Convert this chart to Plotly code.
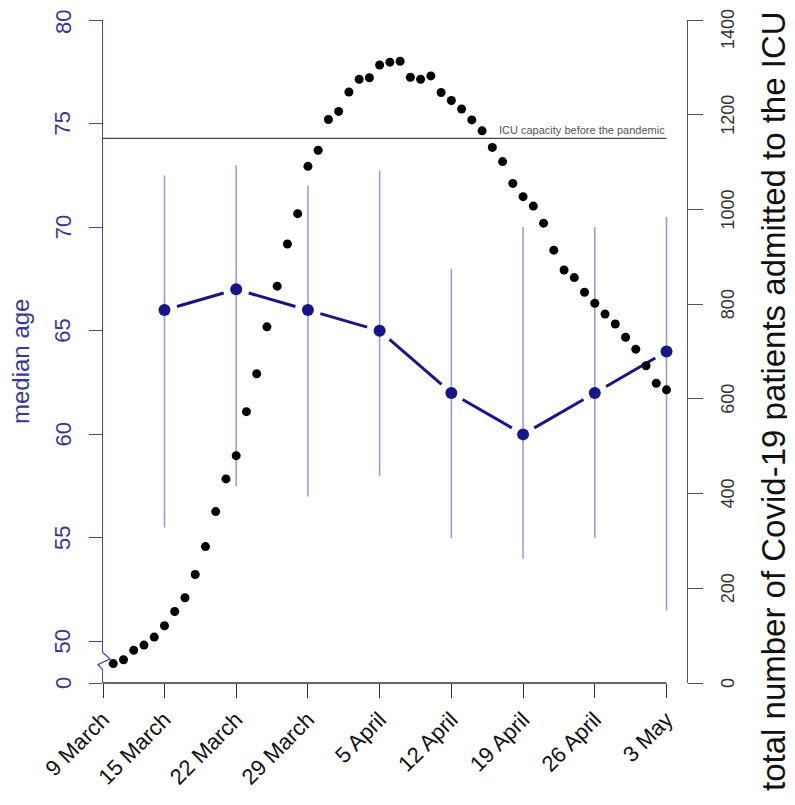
import math
import pandas as pd
import plotly.graph_objects as go

# ---------------- data ----------------
# total ICU patients (daily, 10 March - 3 May 2020)
icu_start = "2020-03-10"
icu_end = "2020-05-03"
icu_total = [41, 49, 69, 80, 97, 121, 151, 180, 229, 288,
             362, 431, 480, 573, 653, 752, 838, 927, 991, 1091,
             1125, 1190, 1207, 1248, 1275, 1278, 1305,
             1311, 1313, 1279, 1275, 1282, 1247, 1230, 1212, 1189, 1166,
             1131, 1101, 1055, 1027, 1007, 971, 914, 872, 856, 825,
             802, 779, 758, 730, 705, 670, 633, 619]

# weekly median age with range
week_dates = ["2020-03-15", "2020-03-22", "2020-03-29", "2020-04-05",
              "2020-04-12", "2020-04-19", "2020-04-26", "2020-05-03"]
median_age = [66, 67, 66, 65, 62, 60, 62, 64]
age_low = [55.5, 57.5, 57, 58, 55, 54, 55, 51.5]
age_high = [72.5, 73, 72, 72.75, 68, 70, 70, 70.5]

icu_capacity = 1150
capacity_label = "ICU capacity before the pandemic"

tick_dates = ["2020-03-09", "2020-03-15", "2020-03-22", "2020-03-29", "2020-04-05",
              "2020-04-12", "2020-04-19", "2020-04-26", "2020-05-03"]
tick_text = ["9 March", "15 March", "22 March", "29 March", "5 April",
             "12 April", "19 April", "26 April", "3 May"]

age_ticks = [50, 55, 60, 65, 70, 75, 80]
icu_ticks = [0, 200, 400, 600, 800, 1000, 1200, 1400]

# ---------------- layout constants ----------------
PAGE_PAD = 8                 # default body margin of the html page
W, H = 795 - PAGE_PAD, 805 - PAGE_PAD
ML, MR, MT, MB = 95, 108, 12, 122
X_MIN, X_MAX = pd.Timestamp("2020-03-09"), pd.Timestamp("2020-05-05")
AGE_AXIS_ZERO = 48          # position of the broken-axis "0" label
AGE_MAX = 80
ICU_MAX = 1400
PLOT_W = W - ML - MR
PLOT_H = H - MT - MB
px_day = PLOT_W / (X_MAX - X_MIN).days
px_age = PLOT_H / (AGE_MAX - AGE_AXIS_ZERO)


def paper_x(screen_x):
    return (screen_x - PAGE_PAD - ML) / PLOT_W


def paper_y(screen_y):
    return (H - MB - (screen_y - PAGE_PAD)) / PLOT_H


NAVY = "#16168a"
AXIS_BLUE = "#4646a6"
LABEL_BLUE = "#36369c"
BAR_BLUE = "#9c9cd4"
FONT = "Liberation Sans, Arial, sans-serif"

fig = go.Figure()

icu_dates = pd.date_range(icu_start, icu_end, freq="D")
fig.add_trace(go.Scatter(
    x=icu_dates, y=icu_total, mode="markers", yaxis="y2",
    marker=dict(color="black", size=9), showlegend=False, hoverinfo="skip"))

# vertical range lines
wd = pd.to_datetime(week_dates)
fig.add_trace(go.Scatter(
    x=wd, y=median_age, mode="markers", yaxis="y",
    marker=dict(color=NAVY, size=11, opacity=0),
    error_y=dict(type="data", symmetric=False,
                 array=[h - m for h, m in zip(age_high, median_age)],
                 arrayminus=[m - l for l, m in zip(age_low, median_age)],
                 color=BAR_BLUE, thickness=1.6, width=0),
    showlegend=False, hoverinfo="skip"))

# line segments between points with gaps (R type="b")
GAP = 13
seg_x, seg_y = [], []
for i in range(len(wd) - 1):
    dt = wd[i + 1] - wd[i]
    da = median_age[i + 1] - median_age[i]
    L = math.hypot(dt.days * px_day, da * px_age)
    f = GAP / L
    seg_x += [wd[i] + dt * f, wd[i + 1] - dt * f, None]
    seg_y += [median_age[i] + da * f, median_age[i + 1] - da * f, None]
fig.add_trace(go.Scatter(x=seg_x, y=seg_y, mode="lines", yaxis="y",
                         line=dict(color=NAVY, width=3), showlegend=False,
                         hoverinfo="skip", connectgaps=False))
fig.add_trace(go.Scatter(x=wd, y=median_age, mode="markers", yaxis="y",
                         marker=dict(color=NAVY, size=12), showlegend=False,
                         hoverinfo="skip"))

shapes = [
    # x axis line from first to last tick
    dict(type="line", xref="x", yref="paper", x0=tick_dates[0], x1=tick_dates[-1],
         y0=0, y1=0, line=dict(color="#333333", width=1.3), layer="above"),
    # ICU capacity
    dict(type="line", xref="x", yref="y2", x0=tick_dates[0], x1=tick_dates[-1],
         y0=icu_capacity, y1=icu_capacity, line=dict(color="#444444", width=1.4)),
    # axis break: blank out the axis, then zigzag
    dict(type="line", xref="paper", yref="y", x0=0, x1=0, y0=48.62, y1=49.46,
         line=dict(color="white", width=3), layer="above"),
    dict(type="path", xref="paper", yref="y",
         path="M 0,49.46 L 0.012,49.17 L -0.0086,48.88 L 0,48.62",
         line=dict(color=AXIS_BLUE, width=1.3), layer="above"),
]

annotations = [
    dict(text=capacity_label, xref="x", yref="y2", x=tick_dates[-1], y=icu_capacity,
         xanchor="right", yanchor="bottom", showarrow=False, yshift=0,
         font=dict(size=11, color="#555555", family=FONT)),
    dict(text="median age", xref="paper", yref="paper", x=paper_x(21),
         y=paper_y(362), textangle=-90, showarrow=False,
         xanchor="center", yanchor="middle",
         font=dict(size=24, color=LABEL_BLUE, family=FONT)),
    dict(text="total number of Covid-19 patients admitted to the ICU", xref="paper",
         yref="paper", x=paper_x(774), y=paper_y(401),
         textangle=-90, showarrow=False, xanchor="center", yanchor="middle",
         font=dict(size=33, color="#111111", family=FONT)),
]

# left axis labels (rotated, centred on their ticks)
left_vals = [AGE_AXIS_ZERO] + age_ticks
left_text = ["0"] + [str(t) for t in age_ticks]
for v, t in zip(left_vals, left_text):
    annotations.append(dict(
        text=t, xref="paper", yref="y", x=paper_x(63), y=v,
        yshift=-2 if v == AGE_MAX else 0,
        textangle=-90, showarrow=False, xanchor="center", yanchor="middle",
        font=dict(size=22, color=LABEL_BLUE, family=FONT)))

# right axis labels (rotated, centred on their ticks; top one kept inside the page)
for v in icu_ticks:
    annotations.append(dict(
        text=str(v), xref="paper", yref="y2", x=paper_x(728), y=v,
        yshift=-9 if v == ICU_MAX else 0,
        textangle=-90, showarrow=False, xanchor="center", yanchor="middle",
        font=dict(size=18, color="#333333", family=FONT)))

fig.update_layout(
    width=W, height=H,
    margin=dict(l=ML, r=MR, t=MT, b=MB, autoexpand=False),
    plot_bgcolor="white", paper_bgcolor="white",
    font=dict(family=FONT),
    showlegend=False,
    xaxis=dict(type="date", range=[X_MIN, X_MAX], tickvals=tick_dates, ticktext=tick_text,
               tickangle=-45, ticks="outside", ticklen=14, tickcolor="#333333",
               showgrid=False, zeroline=False, showline=False, automargin=False,
               ticklabeloverflow="allow",
               tickfont=dict(size=22, color="#111111", family=FONT)),
    yaxis=dict(range=[AGE_AXIS_ZERO, AGE_MAX],
               tickvals=left_vals, showticklabels=False,
               ticks="outside", ticklen=13, tickcolor=AXIS_BLUE,
               showline=True, linecolor=AXIS_BLUE, linewidth=1.3,
               showgrid=False, zeroline=False, automargin=False),
    yaxis2=dict(range=[0, ICU_MAX], overlaying="y", side="right", tickvals=icu_ticks,
                showticklabels=False, ticks="outside", ticklen=15, tickcolor="#555555",
                showline=True, linecolor="#555555", linewidth=1.3,
                showgrid=False, zeroline=False, automargin=False),
    shapes=shapes,
    annotations=annotations,
)

fig.write_html("out.html")
